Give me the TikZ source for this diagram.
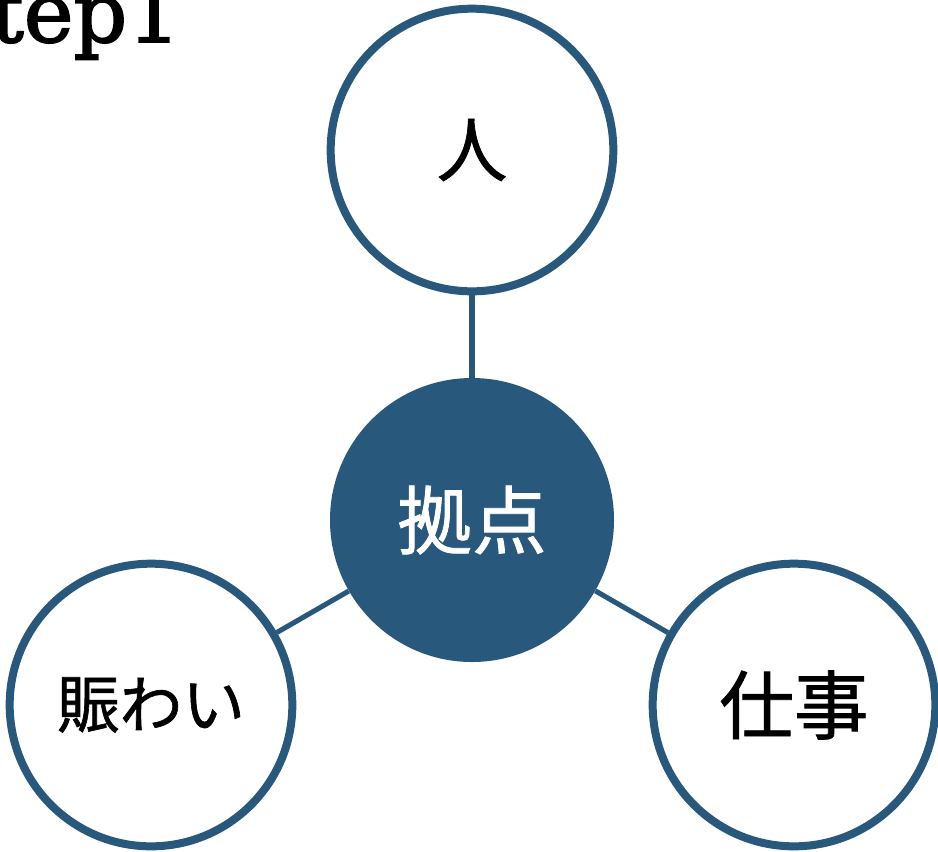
\documentclass[tikz,border=0pt]{standalone}
\usepackage{fontspec}
\newfontfamily\cjk[FakeBold=1]{Noto Sans CJK JP}
\newfontfamily\titlefont[FakeBold=2]{DejaVu Serif}
\definecolor{navy}{HTML}{28587B}
\begin{document}
\begin{tikzpicture}[x=0.75pt,y=-0.75pt,
  ring/.style={circle,draw=navy,line width=6pt,fill=white,minimum size=212pt,inner sep=0pt},
  hub/.style={circle,fill=navy,minimum size=213pt,inner sep=0pt},
  link/.style={draw=navy,line width=3.8pt}]
\useasboundingbox (0,0) rectangle (938,851);
\node[ring] (top) at (472,150) {\cjk\fontsize{53}{60}\selectfont 人};
\node[ring] (left) at (151,705) {\cjk\fontsize{47}{55}\selectfont 賑わい};
\node[ring] (right) at (794,705) {\cjk\fontsize{56}{62}\selectfont 仕事};
\node[hub] (hub) at (472,520) {\cjk\color{white}\fontsize{56}{62}\selectfont 拠点};
\draw[link] (top) -- (hub);
\draw[link] (left) -- (hub);
\draw[link] (right) -- (hub);
\node[anchor=base east,inner sep=0pt,font=\titlefont\fontsize{63}{70}\selectfont] (title) at (181,42) {Step1};
\end{tikzpicture}
\end{document}
